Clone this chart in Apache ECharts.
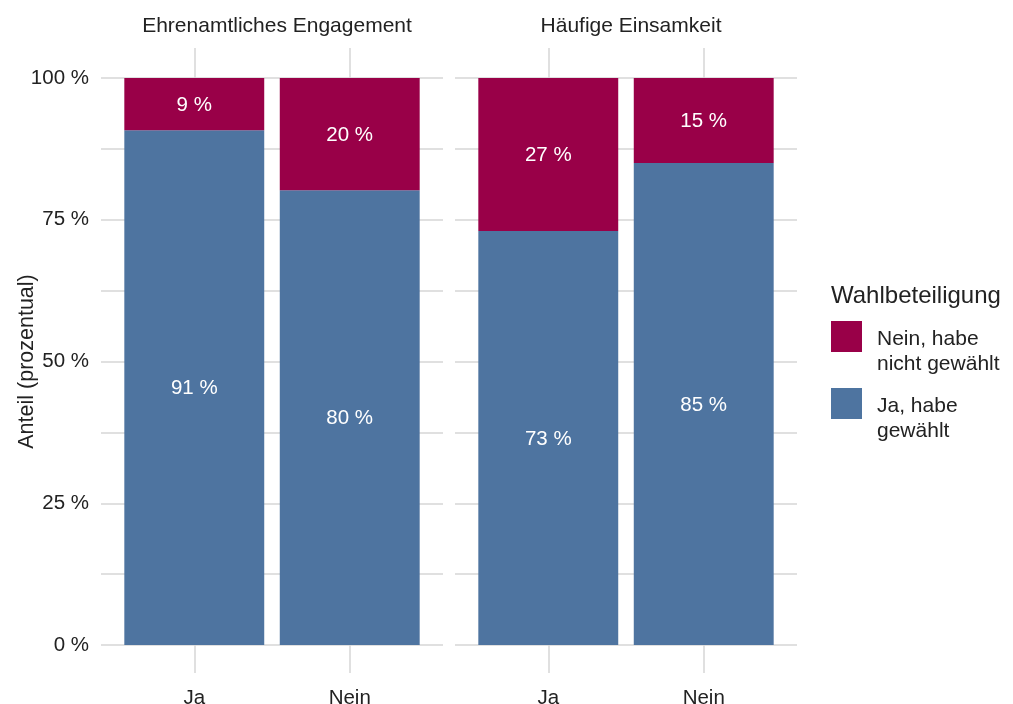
<!DOCTYPE html>
<html><head><meta charset="utf-8">
<script src="https://cdn.jsdelivr.net/npm/echarts@6/dist/echarts.min.js"></script>
<style>html,body{margin:0;padding:0;background:#fff}#c{width:1013px;height:704px}</style>
</head><body><div id="c"></div>
<script>
const panels = ['Ehrenamtliches Engagement', 'Häufige Einsamkeit'];
const categories = ['Ja', 'Nein'];
const seriesNames = ['Ja, habe gewählt', 'Nein, habe nicht gewählt'];
// values per panel: [Ja, Nein] categories
const jaGewaehlt = [[90.8, 80.2], [73.0, 85.0]];
const neinGewaehlt = [[9.2, 19.8], [27.0, 15.0]];
const yTicks = [0, 25, 50, 75, 100];
const legendTitle = 'Wahlbeteiligung';
const yTitle = 'Anteil (prozentual)';

const FONT = "'Liberation Sans', Arial, sans-serif";
const GRID_C = '#d6d6d6';
const BLUE = '#4E74A0';
const RED = '#990048';
const TXT = '#222222';
const FS = 20.5;

const grids = [], xAxes = [], yAxes = [], series = [], titles = [];
const panelLeft = [101, 455];
const PW = 342;
const unit = PW / 2.2;
const xPos = categories.map((c, i) => i + 1);

panels.forEach((p, pi) => {
  // background grid: gridlines + ticks
  grids.push({ left: panelLeft[pi], width: PW, top: 78, height: 567, containLabel: false, outerBoundsMode: 'none' });
  // bar grid: category axis, inset by ggplot-like expansion
  grids.push({ left: panelLeft[pi] + unit * 0.1, width: unit * 2, top: 78, height: 567, containLabel: false, outerBoundsMode: 'none' });
  const g0 = pi * 2, g1 = pi * 2 + 1;
  xAxes.push({
    gridIndex: g0, type: 'value', min: 0.4, max: 2.6,
    axisLine: { show: false }, splitLine: { show: false },
    axisTick: { show: true, customValues: xPos, length: 28, lineStyle: { color: GRID_C, width: 1.5 } },
    axisLabel: { show: true, customValues: xPos, margin: 43, fontSize: FS, color: TXT, fontFamily: FONT,
      formatter: v => categories[Math.round(v) - 1] || '' }
  });
  xAxes.push({
    gridIndex: g0, type: 'value', min: 0.4, max: 2.6, position: 'top',
    axisLine: { show: false }, splitLine: { show: false },
    axisTick: { show: true, customValues: xPos, length: 30, lineStyle: { color: GRID_C, width: 1.5 } },
    axisLabel: { show: false }
  });
  xAxes.push({
    gridIndex: g1, type: 'category', data: categories, show: false
  });
  yAxes.push({
    gridIndex: g0, type: 'value', min: 0, max: 100, interval: 12.5,
    axisLine: { show: false }, axisTick: { show: false },
    splitLine: { show: true, lineStyle: { color: GRID_C, width: 1.5 } },
    axisLabel: { show: pi === 0, fontSize: FS, color: TXT, fontFamily: FONT, margin: 12,
      formatter: v => yTicks.includes(v) ? v + ' %' : '' },
    name: pi === 0 ? yTitle : '', nameLocation: 'middle', nameGap: 63, nameRotate: 90,
    nameMoveOverlap: false,
    nameTextStyle: { fontSize: 21.5, color: TXT, fontFamily: FONT }
  });
  yAxes.push({ gridIndex: g1, type: 'value', min: 0, max: 100, show: false });
  const lab = { show: true, position: 'inside', offset: [0, 1], color: '#fff', fontSize: FS, fontFamily: FONT,
    formatter: prm => Math.round(prm.value) + ' %' };
  const xi = pi * 3 + 2, yi = pi * 2 + 1;
  series.push({
    name: seriesNames[0], type: 'bar', stack: 'p' + pi, xAxisIndex: xi, yAxisIndex: yi,
    barWidth: unit * 0.9, itemStyle: { color: BLUE }, label: lab,
    data: jaGewaehlt[pi]
  });
  series.push({
    name: seriesNames[1], type: 'bar', stack: 'p' + pi, xAxisIndex: xi, yAxisIndex: yi,
    barWidth: unit * 0.9, itemStyle: { color: RED }, label: lab,
    data: neinGewaehlt[pi]
  });
  titles.push({ text: p, left: panelLeft[pi] + PW / 2, top: 11, textAlign: 'center',
    textStyle: { fontSize: 21, fontWeight: 'normal', color: TXT, fontFamily: FONT } });
});

titles.push({ text: legendTitle, left: 826, top: 279,
  textStyle: { fontSize: 24, fontWeight: 'normal', color: TXT, fontFamily: FONT } });

const legendOrder = [seriesNames[1], seriesNames[0]];
const legendTops = [331, 398];
const legends = legendOrder.map((n, i) => ({
  data: [n], left: 826, top: legendTops[i] - 24.5 - 5, orient: 'vertical',
  itemWidth: 31, itemHeight: 31, itemGap: 10, icon: 'rect', selectedMode: false,
  formatter: name => '{s| }\n{a|' + name.replace(/^(\S+ \S+) /, '$1}\n{a|') + '}',
  textStyle: { color: TXT, fontFamily: FONT, padding: [0, 0, 0, 10],
    rich: { s: { fontSize: 10, lineHeight: 30 }, a: { fontSize: 21, lineHeight: 25, color: TXT, fontFamily: FONT } } }
}));

const chart = echarts.init(document.getElementById('c'), null, { renderer: 'canvas' });
chart.setOption({
  animation: false, backgroundColor: '#fff',
  title: titles, grid: grids, xAxis: xAxes, yAxis: yAxes, series: series, legend: legends
});
</script></body></html>
